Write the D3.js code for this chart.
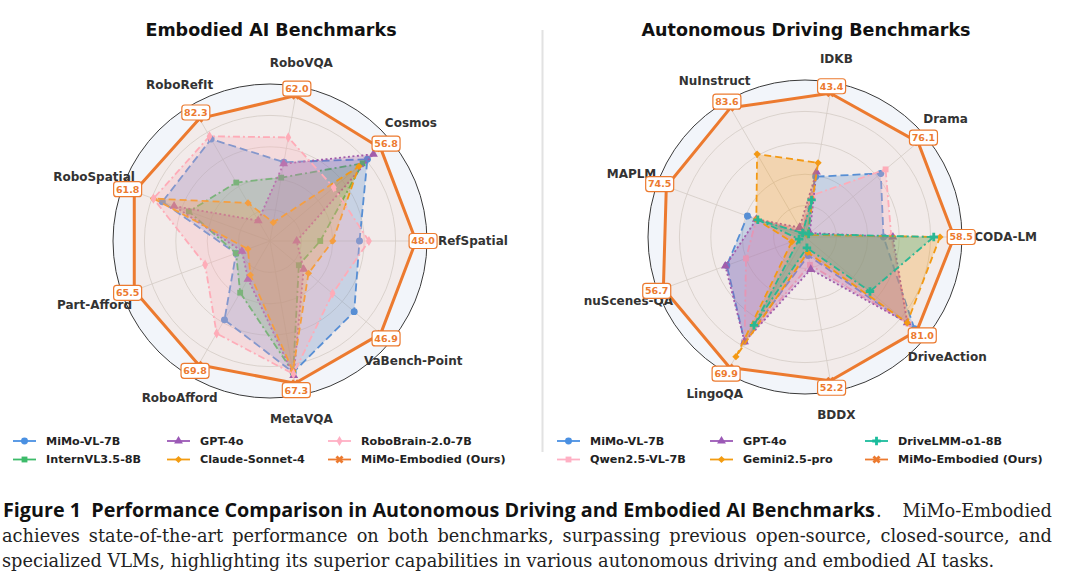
<!DOCTYPE html>
<html>
<head>
<meta charset="utf-8">
<script src="https://cdn.jsdelivr.net/npm/d3@7"></script>
<style>
body{margin:0;background:#fff;}
</style>
</head>
<body>
<svg id="chart" width="1080" height="575"></svg>
<script>
var width=1080, height=575;
var R=157;//outer ring radius

// left chart: axes go counter-clockwise starting from the right
var embAxes=["RefSpatial","Cosmos","RoboVQA","RoboRefIt","RoboSpatial","Part-Afford","RoboAfford","MetaVQA","VaBench-Point"];
var embScores=["48.0","56.8","62.0","82.3","61.8","65.5","69.8","67.3","46.9"];
var embNames=["MiMo-VL-7B","InternVL3.5-8B","GPT-4o","Claude-Sonnet-4","RoboBrain-2.0-7B","MiMo-Embodied (Ours)"];
// radius, share of the outer ring
var embMimoVL=[0.57,0.81,0.51,0.75,0.73,0.23,0.58,0.85,0.70];
var embIntern=[0.32,0.77,0.41,0.43,0.55,0.23,0.38,0.85,0.24];
var embGpt=[0.17,0.86,0.50,0.15,0.65,0.19,0.28,0.87,0.28];
var embClaude=[0.40,0.74,0.12,0.28,0.79,0.15,0.25,0.84,0.32];
var embRoboBrain=[0.63,0.53,0.67,0.77,0.79,0.44,0.68,0.86,0.52];
var embOurs=[0.93,0.92,0.94,0.90,0.92,0.92,0.91,0.92,0.92];

// right chart
var adAxes=["CODA-LM","Drama","IDKB","NuInstruct","MAPLM","nuScenes-QA","LingoQA","BDDX","DriveAction"];
var adScores=["58.5","76.1","43.4","83.6","74.5","56.7","69.9","52.2","81.0"];
var adNames=["MiMo-VL-7B","Qwen2.5-VL-7B","GPT-4o","Gemini2.5-pro","DriveLMM-o1-8B","MiMo-Embodied (Ours)"];
var adMimoVL=[0.50,0.63,0.39,0.03,0.39,0.53,0.77,0.12,0.91];
var adQwen=[0.55,0.67,0.27,0.05,0.33,0.40,0.77,0.18,0.86];
var adGpt=[0.56,0.04,0.42,0.07,0.33,0.54,0.77,0.21,0.85];
var adGemini=[0.86,0.02,0.48,0.61,0.33,0.09,0.88,0.10,0.85];
var adDriveLMM=[0.82,0.03,0.24,0.03,0.32,0.04,0.65,0.07,0.54];
var adOurs=[0.95,0.94,0.93,0.95,0.94,0.96,0.96,0.93,0.93];

var captionBold="Figure 1  Performance Comparison in Autonomous Driving and Embodied AI Benchmarks";
var captionLines=["achieves state-of-the-art performance on both benchmarks, surpassing previous open-source, closed-source, and",
                  "specialized VLMs, highlighting its superior capabilities in various autonomous driving and embodied AI tasks."];

var styles={
  "MiMo-VL-7B":{color:"#4a90e2",dash:"8,4",marker:"circle"},
  "InternVL3.5-8B":{color:"#3dbb6a",dash:"7,3,2,3",marker:"square"},
  "GPT-4o":{color:"#9b59b6",dash:"2,2.5",marker:"triangle"},
  "Claude-Sonnet-4":{color:"#f39c12",dash:"7,4",marker:"diamond"},
  "RoboBrain-2.0-7B":{color:"#ffb0c4",dash:"7,3,2,3",marker:"thin"},
  "Qwen2.5-VL-7B":{color:"#ffb0c4",dash:"7,3,2,3",marker:"square"},
  "Gemini2.5-pro":{color:"#f39c12",dash:"7,4",marker:"diamond"},
  "DriveLMM-o1-8B":{color:"#1abc9c",dash:"7,3,2,3",marker:"plus"},
  "MiMo-Embodied (Ours)":{color:"#ec7a2f",dash:null,marker:"x"}
};
var oursColor="#ec7a2f";

var svg=d3.select('#chart');

function marker(sel,type,color,size){//draw one marker at 0,0 in the selection
  var sym={circle:d3.symbolCircle,square:d3.symbolSquare,triangle:d3.symbolTriangle,
           diamond:d3.symbolSquare,thin:d3.symbolDiamond,plus:d3.symbolCross,x:d3.symbolCross}[type];
  var area={circle:38,square:34,triangle:34,diamond:26,thin:30,plus:40,x:40}[type];
  var rot=(type=='diamond'||type=='x')?45:0;
  sel.append('path')
     .attr('d',d3.symbol().type(sym).size(area*(size||1))())
     .attr('transform','rotate('+rot+')')
     .attr('fill',color);
}

function drawRadar(cx,cy,title,axes,names,series,scores){
  var n=axes.length;
  var g=svg.append('g').attr('transform','translate('+cx+','+cy+')');
  var r=d3.scaleLinear().domain([0,1]).range([0,R]);
  var ang=d3.scaleLinear().domain([0,n]).range([Math.PI/2,Math.PI/2-2*Math.PI]);//d3 angle, clockwise from top
  function px(i,v){return r(v)*Math.sin(ang(i));}
  function py(i,v){return -r(v)*Math.cos(ang(i));}

  svg.append('text')
     .attr('x',cx+1).attr('y',36)
     .attr('text-anchor','middle')
     .style('font-family','DejaVu Sans').style('font-weight','bold').style('font-size','17.5px')
     .attr('fill','#111')
     .text(title);

  g.append('circle').attr('r',r(1)).attr('fill','#f2f5fa');
  g.selectAll('.grid').data([0.2,0.4,0.6,0.8]).enter()
   .append('circle').attr('r',function(d){return r(d);})
   .attr('fill','none').attr('stroke','#d2d2d2').attr('stroke-width',0.8);
  g.selectAll('.spoke').data(axes).enter()
   .append('line')
   .attr('x1',0).attr('y1',0)
   .attr('x2',function(d,i){return px(i,1);})
   .attr('y2',function(d,i){return py(i,1);})
   .attr('stroke','#d2d2d2').attr('stroke-width',0.8);
  g.append('circle').attr('r',r(1)).attr('fill','none').attr('stroke','#3a3a3a').attr('stroke-width',1);

  var line=d3.lineRadial()
             .angle(function(d,i){return ang(i);})
             .radius(function(d){return r(d);})
             .curve(d3.curveLinearClosed);

  series.forEach(function(vals,k){
    var st=styles[names[k]];
    var ours=(k==series.length-1);
    g.append('path').attr('d',line(vals))
     .attr('fill',st.color).attr('fill-opacity',ours?0.08:0.27).attr('stroke','none');
    g.append('path').attr('d',line(vals))
     .attr('fill','none').attr('stroke',st.color)
     .attr('stroke-width',ours?3:1.8)
     .attr('stroke-dasharray',st.dash)
     .attr('stroke-linejoin','round');
    vals.forEach(function(v,i){
      var m=g.append('g').attr('transform','translate('+px(i,v)+','+py(i,v)+')');
      marker(m,st.marker,st.color,1);
    });
  });

  // axis names (under the value boxes, like the reference)
  g.selectAll('.lab').data(axes).enter().append('text')
   .attr('text-anchor','middle').attr('dy','0.35em')
   .style('font-family','DejaVu Sans').style('font-weight','bold').style('font-size','12px')
   .attr('fill','#333')
   .text(function(d){return d;})
   .each(function(d,i){
     var w=this.getComputedTextLength();
     var c=Math.cos(Math.PI/2-ang(i));
     var rr=R*1.15+(c>0?0.32:0.12)*w*Math.pow(Math.abs(c),6);
     d3.select(this).attr('x',rr*Math.sin(ang(i))).attr('y',-rr*Math.cos(ang(i)));
   });

  // value boxes of our model
  var ours=series[series.length-1];
  var box=g.selectAll('.box').data(scores).enter().append('g')
           .attr('transform',function(d,i){return 'translate('+px(i,ours[i]+0.045)+','+py(i,ours[i]+0.045)+')';});
  box.append('rect').attr('x',-14).attr('y',-7.5).attr('width',28).attr('height',15).attr('rx',3)
     .attr('fill','#fff').attr('stroke',oursColor).attr('stroke-width',1.2);
  box.append('text').attr('text-anchor','middle').attr('dy','0.35em')
     .style('font-family','DejaVu Sans').style('font-weight','bold').style('font-size','9.5px')
     .attr('fill',oursColor).text(function(d){return d;});
}

function drawLegend(x0,y0,names,colX){
  names.forEach(function(name,k){
    var st=styles[name];
    var x=x0+colX[Math.floor(k/2)], y=y0+(k%2)*18.5;
    var g=svg.append('g').attr('transform','translate('+x+','+y+')');
    g.append('line').attr('x1',0).attr('x2',23).attr('y1',0).attr('y2',0)
     .attr('stroke',st.color).attr('stroke-width',1.8);
    var m=g.append('g').attr('transform','translate(11.5,0)');
    marker(m,st.marker,st.color,1);
    g.append('text').attr('x',33).attr('dy','0.35em')
     .style('font-family','DejaVu Sans').style('font-weight','bold').style('font-size','11.2px')
     .attr('fill','#222').text(name);
  });
}

drawRadar(270,241,"Embodied AI Benchmarks",embAxes,embNames,
          [embMimoVL,embIntern,embGpt,embClaude,embRoboBrain,embOurs],embScores);
drawRadar(805,237,"Autonomous Driving Benchmarks",adAxes,adNames,
          [adMimoVL,adQwen,adGpt,adGemini,adDriveLMM,adOurs],adScores);

svg.append('line').attr('x1',542.5).attr('x2',542.5).attr('y1',30).attr('y2',452)
   .attr('stroke','#e2e2e2').attr('stroke-width',2);

drawLegend(13,441,embNames,[0,154,315]);
drawLegend(557,441,adNames,[0,153,308]);

// caption
function fitText(t,w){
  var fs=parseFloat(t.style('font-size'));
  var cur=t.node().getComputedTextLength();
  t.style('font-size',(fs*w/cur)+'px');
}
var cb=svg.append('text').attr('x',3).attr('y',517)
   .style('white-space','pre')
   .style('font-family','Open Sans').style('font-weight','bold').style('font-size','19px')
   .attr('fill','#111').text(captionBold);
fitText(cb,872);
var serifSize;
var probe=svg.append('text').style('font-family','DejaVu Serif').style('font-size','17px').text(captionLines[1]);
fitText(probe,993);
serifSize=parseFloat(probe.style('font-size'));
probe.remove();
svg.append('text').attr('x',876).attr('y',517)
   .style('font-family','DejaVu Serif').style('font-size',serifSize+'px').attr('fill','#222').text('.');
svg.append('text').attr('x',1052).attr('y',517).attr('text-anchor','end')
   .style('font-family','DejaVu Serif').style('font-size',serifSize+'px').attr('fill','#222').text('MiMo-Embodied');

function justify(str,x0,x1,y){
  var words=str.split(' ');
  var t=svg.append('text').attr('y',y)
      .style('font-family','DejaVu Serif').style('font-size',serifSize+'px').attr('fill','#222');
  var spans=t.selectAll('tspan').data(words).enter().append('tspan').text(function(d){return d;});
  var ws=[];
  spans.each(function(){ws.push(this.getComputedTextLength());});
  var gap=(x1-x0-d3.sum(ws))/(words.length-1);
  var x=x0;
  spans.each(function(d,i){d3.select(this).attr('x',x);x+=ws[i]+gap;});
}
justify(captionLines[0],2,1052,542);
svg.append('text').attr('x',2).attr('y',567)
   .style('font-family','DejaVu Serif').style('font-size',serifSize+'px').attr('fill','#222')
   .text(captionLines[1]);
</script>
</body>
</html>
